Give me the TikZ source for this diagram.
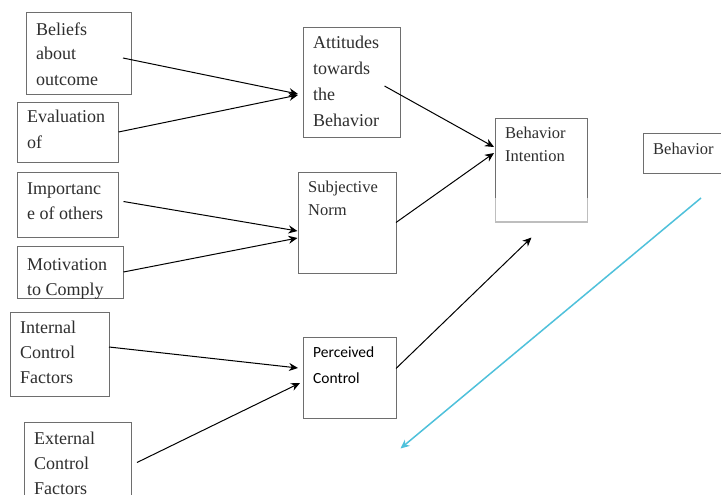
\documentclass[tikz,border=0pt]{standalone}
\usepackage{fontspec}
\setmainfont{Liberation Serif}
\newfontfamily\calfont{Carlito}
\usetikzlibrary{arrows.meta,calc}
\definecolor{inkgray}{HTML}{2E2E2E}
\definecolor{framegray}{HTML}{6E6E6E}
\definecolor{palegray}{HTML}{BEBEBE}
\definecolor{linkblue}{RGB}{79,193,219}
\begin{document}
\begin{tikzpicture}[x=1pt,y=-1pt,
  box/.style={draw=framegray, line width=0.7pt, rectangle, inner sep=0pt, outer sep=0pt, anchor=north west},
  % labels are placed by the baseline of their last line
  lbl/.style={anchor=base west, align=left, inner sep=0pt, text=inkgray, font=\fontsize{18}{25}\selectfont},
  lblsm/.style={lbl, font=\fontsize{16.5}{23}\selectfont},
  lblsans/.style={lbl, text=black, font=\calfont\fontsize{15.5}{26}\selectfont},
  link/.style={draw=black, line width=1pt, -{Stealth[length=9pt,width=8pt]}},
  bluelink/.style={draw=linkblue, line width=1.5pt, -{Stealth[length=9pt,width=8pt]}},
]
\useasboundingbox (0,0) rectangle (721,495);
\fill[white] (0,0) rectangle (721,495);

% frames
\node[box, minimum width=105, minimum height=82] (bel) at (26.5,12.5) {};
\node[box, minimum width=101, minimum height=60] (eva) at (17.5,102) {};
\node[box, minimum width=101, minimum height=65] (imp) at (17.5,172) {};
\node[box, minimum width=106, minimum height=52] (mot) at (17.5,246) {};
\node[box, minimum width=99, minimum height=84] (int) at (10,312) {};
\node[box, minimum width=107, minimum height=90] (ext) at (24.5,422) {};
\node[box, minimum width=97, minimum height=110] (att) at (303,27) {};
\node[box, minimum width=98, minimum height=101] (sn) at (298,172) {};
\node[box, minimum width=93, minimum height=81] (pc) at (303,337) {};
\node[box, draw=none, minimum width=92, minimum height=104] (bi) at (495.5,118) {};
\node[box, minimum width=85, minimum height=40] (beh) at (643,133) {};

% intention frame: dark upper part, pale lower part
\draw[framegray, line width=0.7pt] ($(bi.south west)+(0,-24)$) |- (bi.north east) -- ($(bi.south east)+(0,-24)$);
\draw[palegray, line width=1.6pt] ($(bi.south west)+(0,-24)$) -- (bi.south west) -- (bi.south east) -- ($(bi.south east)+(0,-24)$);

% labels
\node[lbl] (belt) at (36,85) {Beliefs\\about\\outcome};
\node[lbl] (evat) at (27,148) {Evaluation\\of};
\node[lbl] (impt) at (27,219) {Importanc\\e of others};
\begin{scope}
  \clip (mot.north west) rectangle (mot.south east);
  \node[lbl] (mott) at (27,295) {Motivation\\to Comply};
\end{scope}
\node[lbl] (intt) at (20,383) {Internal\\Control\\Factors};
\node[lbl] (extt) at (34,494) {External\\Control\\Factors};
\node[lbl, font=\fontsize{18}{26}\selectfont] (attt) at (313,126) {Attitudes\\towards\\the\\Behavior};
\node[lblsm] (snt) at (308,215) {Subjective\\Norm};
\node[lblsans] (pct) at (313,383) {Perceived\\Control};
\node[lblsm] (bit) at (505,161) {Behavior\\Intention};
\node[lblsm] (beht) at (653,154) {Behavior};

% free ends
\coordinate (pcend) at (531.5,237.5);
\coordinate (fbstart) at (701,198);
\coordinate (fbend) at (400.5,448.5);

% connectors
\draw[link] ($(bel.north east)+(-8.5,45.5)$) -- ($(att.north west)+(-5,67)$);
\draw[link] (eva.east) -- ($(att.north west)+(-5,68)$);
\draw[link] ($(imp.east)+(5,-3)$) -- ($(sn.north west)+(-0.5,59)$);
\draw[link] (mot.east) -- ($(sn.north west)+(-0.5,66)$);
\draw[link] ($(int.east)+(0,-7)$) -- ($(pc.north west)+(-5,31)$);
\draw[link] ($(ext.north east)+(5.5,40.5)$) -- ($(pc.north west)+(-3,46)$);
\draw[link] ($(att.north west)+(81.5,59)$) -- ($(bi.north west)+(-1.5,29)$);
\draw[link] (sn.east) -- ($(bi.north west)+(-1.5,35)$);
\draw[link] ($(pc.east)+(0,-9)$) -- (pcend);
\draw[bluelink] (fbstart) -- (fbend);
\end{tikzpicture}
\end{document}
